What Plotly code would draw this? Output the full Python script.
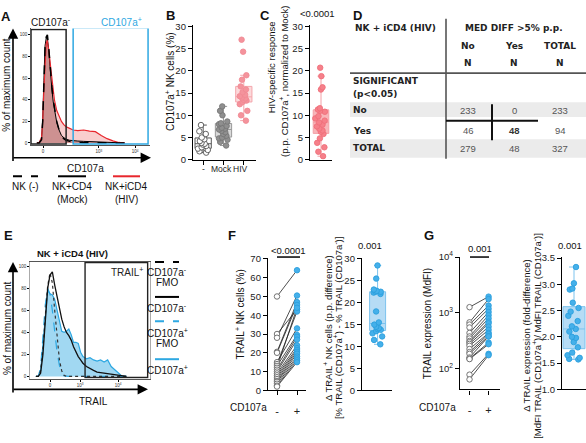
import plotly.graph_objects as go

W, H = 586, 443
FONT = "Arial, Liberation Sans, sans-serif"
TFONT = "DejaVu Sans, Arial, sans-serif"
RED = "#e8262d"
BLUE = "#2ea8e2"
PINK = "#f4939c"

# ---------------- data ----------------
# Panel A histogram (display channel units 0-100)
A_X = [5, 7, 9, 10, 11, 12, 13, 14, 15, 16, 17, 18, 19, 20, 22, 24, 26, 28, 30, 33, 36, 40, 45, 50, 55, 60, 65, 70, 75, 80]
A_NK = [0, 0, 3, 20, 55, 88, 98, 100, 90, 75, 62, 50, 40, 32, 20, 12, 7, 4, 2.5, 1.5, 1, 0.6, 0.3, 0.2, 0.1, 0, 0, 0, 0, 0]
A_MOCK = [0, 0, 4, 22, 58, 90, 97, 96, 88, 72, 60, 48, 38, 30, 19, 12, 7, 5, 3.5, 2.5, 2, 1.8, 1.5, 1.2, 1, 0.7, 0.4, 0.2, 0, 0]
A_HIV = [0, 0.5, 5, 20, 50, 80, 92, 95, 88, 78, 68, 57, 48, 40, 30, 24, 20, 17, 15, 13.5, 12, 11.5, 12, 11, 10.5, 7, 4, 2, 0.5, 0]
A_TICKVALS = [10.3, 58, 89]
A_TICKTEXT = ["0", "10<sup>3</sup>", "10<sup>4</sup>"]
A_GATE_NEG = [0, 30]
A_GATE_POS = [36, 100]

# Panel B
B_CATS = ["-", "Mock", "HIV"]
B_NEG = [7.8, 6.4, 5.8, 5.0, 4.6, 4.2, 3.8, 3.6, 3.4, 3.1, 2.8, 2.5, 2.2, 1.9, 1.6]
B_MOCK = [12.0, 11.0, 10.0, 8.6, 8.2, 8.0, 7.6, 7.2, 7.0, 6.8, 6.5, 6.2, 5.8, 5.4, 5.0, 4.8, 4.5, 4.0, 3.2]
B_HIV = [27.0, 24.3, 19.0, 18.0, 16.5, 15.8, 15.2, 14.6, 14.3, 14.0, 13.8, 13.5, 13.3, 13.0, 12.5, 11.0, 10.0, 8.8]

# Panel C
C_HIV = [20.7, 18.8, 16.3, 15.8, 11.6, 11.3, 11.0, 10.8, 9.8, 9.3, 8.8, 8.4, 7.9, 7.5, 7.0, 6.6, 6.3, 5.8, 4.8, 3.8, 2.8, 1.8, 0.8]

# Panel D table
D_COLS = ["No", "Yes", "TOTAL"]
D_ROWS = ["No", "Yes", "TOTAL"]
D_VALUES = [[233, 0, 233], [46, 48, 94], [279, 48, 327]]

# Panel E histogram
E_X = [5, 7, 9, 11, 13, 15, 17, 19, 21, 23, 25, 27, 29, 31, 33, 35, 37, 39, 41, 43, 45, 48, 51, 54, 57, 60, 63, 66, 69, 72, 75, 78, 82]
E_FMO_NEG = [0, 0, 5, 25, 55, 82, 94, 85, 60, 35, 15, 5, 1, 0, 0, 0, 0, 0, 0, 0, 0, 0, 0, 0, 0, 0, 0, 0, 0, 0, 0, 0, 0]
E_FMO_POS = [0, 0, 8, 35, 65, 80, 75, 60, 40, 22, 10, 3, 0.5, 0, 0, 0, 0, 0, 0, 0, 0, 0, 0, 0, 0, 0, 0, 0, 0, 0, 0, 0, 0]
E_NEG = [0, 0, 3, 20, 50, 80, 92, 95, 83, 72, 63, 52, 45, 40, 37, 33, 27, 22, 18, 15, 12, 9, 7, 5.5, 4, 3.5, 3, 2.5, 2, 1.5, 1, 0.5, 0]
E_POS = [0, 0, 5, 30, 60, 78, 75, 74, 70, 60, 50, 41, 40, 41, 43, 38, 31, 31, 30, 22, 18, 16, 17, 15, 14, 15, 13, 15, 9, 6, 3, 0.5, 0]
E_TICKVALS = [17, 42.5, 74.8]
E_TICKTEXT = ["0", "10<sup>3</sup>", "10<sup>4</sup>"]
E_GATE = [46.8, 100]

# Panel F
FG_CATS = ["-", "+"]
F_NEG = [50, 30, 28, 20.5, 20, 15, 14, 13, 12, 11, 10, 9, 8, 7, 6, 5, 4.5, 3.5, 2.5, 2]
F_POS = [64, 43, 50.5, 47, 45.5, 33, 42, 29.5, 44, 28.5, 27, 24, 22.5, 21.5, 20.5, 19.5, 18, 17, 16, 15]
F_DIFF = [28.5, 25.5, 23.0, 22.7, 22.5, 22.5, 22.3, 22.0, 18.0, 15.5, 15.0, 14.5, 14.2, 14.0, 13.8, 13.5, 13.0, 12.3, 11.5, 10.5]

# Panel G
G_NEG = [1270, 680, 620, 550, 440, 380, 350, 316, 300, 280, 259, 227, 200, 186, 160, 153, 150, 79, 65]
G_POS = [1960, 1770, 1360, 1190, 1040, 910, 800, 700, 655, 570, 500, 440, 420, 385, 380, 296, 277, 186, 176]
G_DIFF = [3.33, 3.02, 2.92, 2.9, 2.65, 2.55, 2.48, 2.4, 2.3, 2.2, 2.15, 2.1, 2.0, 1.98, 1.9, 1.8, 1.7, 1.65, 1.6, 1.58, 1.57]

# ---------------- helpers ----------------
def xd(a, b):
    return [a / W, min(b / W, 1.0)]

def yd(top, bot):
    return [1 - bot / H, 1 - top / H]

def px(x):
    return x / W

def py(y):
    return 1 - y / H

def std_axis(domain, rng, anchor, **kw):
    d = dict(domain=domain, range=rng, anchor=anchor, showgrid=False, zeroline=False,
             showline=True, linecolor="black", linewidth=1.3, ticks="outside", ticklen=4,
             tickwidth=1.2, tickcolor="black", tickfont=dict(size=9.5, color="#222", family=FONT))
    d.update(kw)
    return d

fig = go.Figure()
annotations = []
shapes = []

def text(x, y, s, size=10, color="#111", bold=False, angle=0, xanchor="center", family=FONT):
    if bold:
        s = "<b>" + s + "</b>"
    annotations.append(dict(x=px(x), y=py(y), xref="paper", yref="paper", text=s, showarrow=False,
                            xanchor=xanchor, yanchor="middle", textangle=angle,
                            font=dict(size=size, color=color, family=family)))

def pline(x0, y0, x1, y1, color="black", width=1.3, dash="solid"):
    shapes.append(dict(type="line", xref="paper", yref="paper", x0=px(x0), y0=py(y0), x1=px(x1), y1=py(y1),
                       line=dict(color=color, width=width, dash=dash)))

def arrow(xt, yt, axp, ayp):
    annotations.append(dict(x=px(xt), y=py(yt), xref="paper", yref="paper", ax=axp, ay=ayp,
                            axref="pixel", ayref="pixel", text="", showarrow=True, arrowhead=2,
                            arrowsize=1.3, arrowwidth=1.6, arrowcolor="black"))

# ---------------- Panel A ----------------
fig.add_trace(go.Scatter(x=A_X, y=A_HIV, mode="lines", line=dict(color="rgba(0,0,0,0)", width=0),
                         fill="tozeroy", fillcolor="rgba(240,125,125,0.38)", xaxis="x", yaxis="y"))
fig.add_trace(go.Scatter(x=A_X, y=A_MOCK, mode="lines", line=dict(color="black", width=1),
                         fill="tozeroy", fillcolor="rgba(150,70,70,0.45)", xaxis="x", yaxis="y"))
fig.add_trace(go.Scatter(x=A_X, y=A_HIV, mode="lines", line=dict(color=RED, width=1.2), xaxis="x", yaxis="y"))
fig.add_trace(go.Scatter(x=A_X, y=A_NK, mode="lines", line=dict(color="black", width=1.5, dash="dash"),
                         xaxis="x", yaxis="y"))
shapes.append(dict(type="rect", xref="x", yref="y", x0=A_GATE_NEG[0], x1=A_GATE_NEG[1], y0=-1, y1=105,
                   line=dict(color="#222", width=1.5)))
shapes.append(dict(type="rect", xref="x", yref="y", x0=A_GATE_POS[0], x1=A_GATE_POS[1], y0=-1, y1=106.5,
                   line=dict(color=BLUE, width=1.5)))

hist_tick = dict(size=4.5, color="#333", family=FONT)
layout_axes = {}
layout_axes["xaxis"] = std_axis(xd(31, 150.4), [0, 102], "y", tickvals=A_TICKVALS, ticktext=A_TICKTEXT,
                                 linewidth=0.8, linecolor="#555", ticklen=2, tickwidth=0.8, tickfont=hist_tick)
layout_axes["yaxis"] = std_axis(yd(22, 142), [-2, 106], "x", tickvals=[0, 20, 40, 60, 80, 100],
                                 linewidth=0.8, linecolor="#555", ticklen=2, tickwidth=0.8, tickfont=hist_tick)

arrow(13, 22, 0, 134)
arrow(151, 155, -139, 0)
text(6, 10, "A", size=13, bold=True)
text(51, 15, "CD107a<sup>-</sup>", size=10)
text(121, 15, "CD107a<sup>+</sup>", size=10, color=BLUE)
text(7, 80, "% of maximum count", size=10, angle=-90)
text(85, 166, "CD107a", size=10)
pline(13, 174, 38, 174, dash="dash", width=2)
pline(58, 174, 86, 174, width=2)
pline(113, 174, 140, 174, color=RED, width=2)
text(25, 185, "NK (-)", size=10)
text(72, 185, "NK+CD4", size=10)
text(72, 198, "(Mock)", size=10)
text(126, 185, "NK+iCD4", size=10)
text(126, 198, "(HIV)", size=10)

# ---------------- Panel B ----------------
def box(data, x0, xa, ya, fill, line, mfill, mline, width=0.8):
    fig.add_trace(go.Box(y=data, x0=x0, xaxis=xa, yaxis=ya, boxpoints="all", jitter=0.75, pointpos=0,
                         fillcolor=fill, line=dict(color=line, width=1), width=width, whiskerwidth=0.45,
                         marker=dict(size=5.5, color=mfill, line=dict(color=mline, width=0.9))))

box(B_NEG, 0, "x2", "y2", "rgba(255,255,255,1)", "#555", "white", "#555")
box(B_MOCK, 1, "x2", "y2", "rgba(185,185,185,0.55)", "#999", "#8f8f8f", "#777")
box(B_HIV, 2, "x2", "y2", "rgba(250,185,190,0.55)", "#f4a6ac", PINK, "#f08a94")
layout_axes["xaxis2"] = std_axis(xd(193, 256), [-0.5, 2.6], "y2", tickvals=[0, 1, 2], ticktext=["", "", ""])
layout_axes["yaxis2"] = std_axis(yd(19, 157), [0, 30.2], "x2", tickvals=[0, 5, 10, 15, 20, 25, 30])
for xx, lab in zip([203, 222, 240], B_CATS):
    text(xx, 166, lab, size=8.5, color="#222")
text(170, 9, "B", size=13, bold=True)
text(170, 77, "CD107a<sup>+</sup> NK cells (%)", size=10, angle=-90)

# ---------------- Panel C ----------------
box(C_HIV, 0, "x3", "y3", "rgba(242,120,128,0.55)", "#f4a0a6", "#f6808a", "#ef6f7a", width=0.85)
layout_axes["xaxis3"] = std_axis(xd(310, 332), [-0.6, 0.6], "y3", showticklabels=False, ticks="")
layout_axes["yaxis3"] = std_axis(yd(19, 157), [0, 30.2], "x3", tickvals=[0, 5, 10, 15, 20, 25, 30])
text(265, 9, "C", size=13, bold=True)
text(317, 7, "<0.0001", size=9.5)
text(271, 62, "HIV-specific response", size=9.5, angle=-90)
text(284, 77, "(p.p. CD107a<sup>+</sup>, normalized to Mock)", size=9.5, angle=-90)

# ---------------- Panel D (table) ----------------
text(357, 9, "D", size=13, bold=True)
shapes.append(dict(type="rect", xref="paper", yref="paper", x0=px(350), x1=1, y0=py(113), y1=py(98),
                   fillcolor="#ebebeb", line=dict(width=0), layer="below"))
shapes.append(dict(type="rect", xref="paper", yref="paper", x0=px(350), x1=1, y0=py(155), y1=py(136),
                   fillcolor="#ebebeb", line=dict(width=0), layer="below"))
pline(446, 12, 446, 156, color="#555", width=1.6)
pline(350, 68, 586, 68, color="#555", width=1.6)
pline(492, 100, 492, 137, color="#111", width=2)
pline(446, 117, 538, 117, color="#111", width=2)
TS = 9
text(353, 22, "NK + iCD4 (HIV)", size=TS, bold=True, xanchor="left", color="#222", family=TFONT)
text(514, 22, "MED DIFF >5% p.p.", size=TS, bold=True, color="#222", family=TFONT)
col_x = [468, 514, 560]
for cx, c in zip(col_x, D_COLS):
    text(cx, 40, c, size=TS, bold=True, color="#222", family=TFONT)
    text(cx, 58, "N", size=TS, bold=True, color="#222", family=TFONT)
text(351, 76, "SIGNIFICANT", size=TS, bold=True, xanchor="left", color="#222", family=TFONT)
text(351, 89, "(p<0.05)", size=TS, bold=True, xanchor="left", color="#222", family=TFONT)
row_y = [106, 127, 145]
for ry, rlab, vals in zip(row_y, D_ROWS, D_VALUES):
    text(351, ry, rlab, size=TS, bold=True, xanchor="left", color="#222", family=TFONT)
    for j, (cx, v) in enumerate(zip(col_x, vals)):
        isb = (rlab == "Yes" and j == 1)
        text(cx, ry, str(v), size=9.5, bold=isb, color="#333" if isb else "#555")

# ---------------- Panel E ----------------
fig.add_trace(go.Scatter(x=E_X, y=E_POS, mode="lines", line=dict(color=BLUE, width=1.2),
                         fill="tozeroy", fillcolor="rgba(46,168,226,0.45)", xaxis="x8", yaxis="y8"))
fig.add_trace(go.Scatter(x=E_X, y=E_FMO_POS, mode="lines", line=dict(color=BLUE, width=1.2, dash="dash"),
                         xaxis="x8", yaxis="y8"))
fig.add_trace(go.Scatter(x=E_X, y=E_FMO_NEG, mode="lines", line=dict(color="#333", width=1.2, dash="dot"),
                         xaxis="x8", yaxis="y8"))
fig.add_trace(go.Scatter(x=E_X, y=E_NEG, mode="lines", line=dict(color="#111", width=1.3),
                         xaxis="x8", yaxis="y8"))
shapes.append(dict(type="rect", xref="x8", yref="y8", x0=E_GATE[0], x1=E_GATE[1], y0=-1, y1=103.5,
                   line=dict(color="#222", width=1.4)))
layout_axes["xaxis8"] = std_axis(xd(30, 150), [0, 102], "y8", tickvals=E_TICKVALS, ticktext=E_TICKTEXT,
                                  linewidth=0.8, linecolor="#555", ticklen=2, tickwidth=0.8, tickfont=hist_tick,
                                  mirror=True)
layout_axes["yaxis8"] = std_axis(yd(262, 382), [-2, 104], "x8", tickvals=[0, 20, 40, 60, 80, 100],
                                  linewidth=0.8, linecolor="#aaa", ticklen=2, tickwidth=0.8, tickfont=hist_tick,
                                  mirror=True)
arrow(13, 262, 0, 132)
arrow(148, 393, -136, 0)
text(8, 235, "E", size=13, bold=True)
text(72, 253, "NK + iCD4 (HIV)", size=9.5, bold=True)
text(127, 272, "TRAIL<sup>+</sup>", size=10, color="#222")
text(93, 405, "TRAIL", size=10)
text(7, 330, "% of maximum count", size=10, angle=-90)
pline(155, 262, 179, 262, dash="dash", width=2)
text(167, 272, "CD107a<sup>-</sup>", size=10)
text(167, 283, "FMO", size=10)
pline(155, 298, 179, 298, width=2)
text(167, 309, "CD107a<sup>-</sup>", size=10)
pline(155, 323, 179, 323, dash="dash", width=2, color=BLUE)
text(167, 335, "CD107a<sup>+</sup>", size=10)
text(167, 346, "FMO", size=10)
pline(155, 362, 179, 362, width=2, color=BLUE)
text(167, 373, "CD107a<sup>+</sup>", size=10)

# ---------------- Panel F ----------------
def pairs(neg, pos, xa, ya):
    xs, ys = [], []
    for a, b in zip(neg, pos):
        xs += [0, 1, None]
        ys += [a, b, None]
    fig.add_trace(go.Scatter(x=xs, y=ys, mode="lines", line=dict(color="#222", width=0.8), xaxis=xa, yaxis=ya))
    fig.add_trace(go.Scatter(x=[0] * len(neg), y=neg, mode="markers", xaxis=xa, yaxis=ya,
                             marker=dict(size=5.5, color="white", line=dict(color="#666", width=0.9))))
    fig.add_trace(go.Scatter(x=[1] * len(pos), y=pos, mode="markers", xaxis=xa, yaxis=ya,
                             marker=dict(size=5.5, color="#45b0ea", line=dict(color="#2b9fde", width=0.9))))

pairs(F_NEG, F_POS, "x4", "y4")
layout_axes["xaxis4"] = std_axis(xd(268, 306), [-0.45, 1.45], "y4", tickvals=[0, 1], ticktext=FG_CATS,
                                  ticklabelstandoff=6, tickfont=dict(size=11, color="#222", family=FONT))
layout_axes["yaxis4"] = std_axis(yd(258, 394), [0, 70.5], "x4", tickvals=list(range(0, 71, 10)))
text(232, 235, "F", size=13, bold=True)
text(248, 412, "CD107a", size=10)
text(288, 250, "<0.0001", size=9.5)
pline(277, 257, 300, 257, width=1.5)
text(240, 316, "TRAIL<sup>+</sup> NK cells (%)", size=10, angle=-90)

box(F_DIFF, 0, "x5", "y5", "rgba(110,185,235,0.5)", "#7cc3ee", "#45b0ea", "#2b9fde", width=0.8)
layout_axes["xaxis5"] = std_axis(xd(362, 392), [-0.78, 0.72], "y5", showticklabels=False, ticks="")
layout_axes["yaxis5"] = std_axis(yd(258, 394), [0, 30.2], "x5", tickvals=[0, 5, 10, 15, 20, 25, 30])
text(370, 245, "0.001", size=9.5)
text(328, 330, "\u0394 TRAIL<sup>+</sup> NK cells (p.p. difference)", size=9.5, angle=-90)
text(338, 330, "[% TRAIL (CD107a<sup>+</sup>) - % TRAIL (CD107a<sup>-</sup>)]", size=9.5, angle=-90)

# ---------------- Panel G ----------------
pairs(G_NEG, G_POS, "x6", "y6")
layout_axes["xaxis6"] = std_axis(xd(460, 500), [-0.5, 1.6], "y6", tickvals=[0, 1], ticktext=FG_CATS,
                                  ticklabelstandoff=6, tickfont=dict(size=11, color="#222", family=FONT))
layout_axes["yaxis6"] = std_axis(yd(257, 393), [1.635, 4.0], "x6", type="log", tickvals=[100, 1000, 10000],
                                  ticktext=["10<sup>2</sup>", "10<sup>3</sup>", "10<sup>4</sup>"])
text(429, 235, "G", size=13, bold=True)
text(437, 412, "CD107a", size=10)
text(480, 248, "0.001", size=9.5)
pline(470, 257, 489, 257, width=1.5)
text(427, 326, "TRAIL expression (MdFI)", size=10, angle=-90)

box(G_DIFF, 0, "x7", "y7", "rgba(110,185,235,0.5)", "#7cc3ee", "#45b0ea", "#2b9fde", width=1.1)
layout_axes["xaxis7"] = std_axis(xd(562, 586), [-0.6, 0.6], "y7", showticklabels=False, ticks="")
layout_axes["yaxis7"] = std_axis(yd(257, 393), [1.0, 3.52], "x7", tickvals=[1.0, 1.5, 2.0, 2.5, 3.0, 3.5],
                                  tickformat=".1f")
text(570, 245, "0.001", size=9.5)
text(527, 338, "\u0394 TRAIL expression (fold-difference)", size=9.5, angle=-90)
text(537, 338, "[MdFI TRAIL (CD107a<sup>+</sup>)/ MdFI TRAIL (CD107a<sup>-</sup>)]", size=9.5, angle=-90)

fig.update_layout(width=W, height=H, margin=dict(l=0, r=0, t=0, b=0), paper_bgcolor="white",
                  plot_bgcolor="white", showlegend=False, boxmode="overlay",
                  font=dict(family=FONT, color="#111"), annotations=annotations, shapes=shapes,
                  **layout_axes)
fig.write_html("out.html", config={"displayModeBar": False},
               post_script="document.body.style.margin='0';document.body.style.padding='0';")
